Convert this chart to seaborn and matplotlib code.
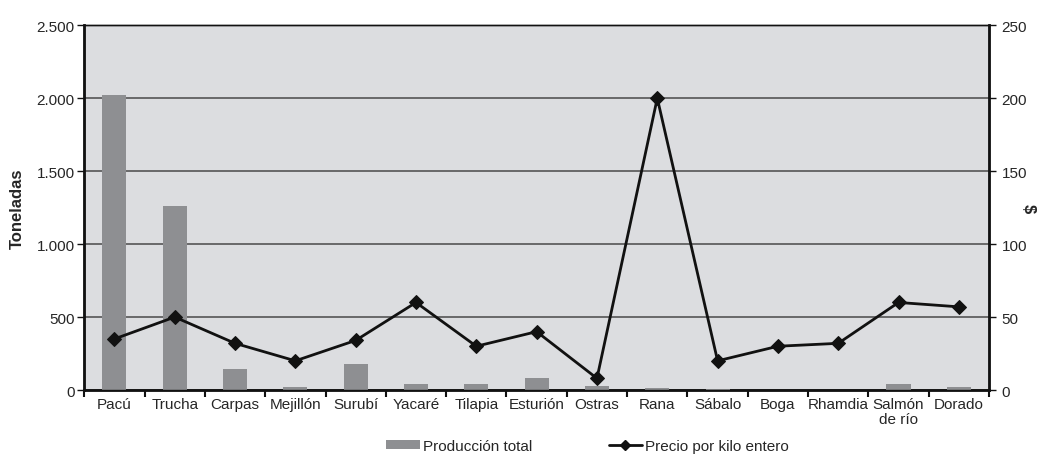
import numpy as np
import pandas as pd
import matplotlib
matplotlib.use("Agg")
import matplotlib.pyplot as plt
import seaborn as sns
from matplotlib.patches import Patch
from matplotlib.lines import Line2D

especies = ["Pacú", "Trucha", "Carpas", "Mejillón", "Surubí", "Yacaré", "Tilapia",
            "Esturión", "Ostras", "Rana", "Sábalo", "Boga", "Rhamdia", "Salmón\nde río", "Dorado"]
produccion = [2020, 1260, 145, 20, 175, 40, 38, 82, 28, 12, 6, 3, 2, 42, 20]
precio = [35, 50, 32, 20, 34, 60, 30, 40, 8, 200, 20, 30, 32, 60, 57]
left_ticks = [0, 500, 1000, 1500, 2000, 2500]
left_labels = ["0", "500", "1.000", "1.500", "2.000", "2.500"]
right_ticks = [0, 50, 100, 150, 200, 250]

sns.set_theme(style="white")
plt.rcParams['font.family'] = ['Liberation Sans Narrow', 'Liberation Sans', 'DejaVu Sans']

df = pd.DataFrame({"especie": especies, "produccion": produccion, "precio": precio,
                   "pos": np.arange(len(especies))})

fig = plt.figure(figsize=(10.4, 4.56), dpi=100)
ax = fig.add_axes([0.081, 0.1425, 0.870, 0.800])
ax.set_facecolor("#dcdde0")

sns.barplot(data=df, x="especie", y="produccion", color="#8e8f92", saturation=1,
            width=0.4, ax=ax, zorder=3, edgecolor="none", linewidth=0)
ax.set_ylim(0, 2500)
ax.set_xlim(-0.5, len(especies) - 0.5)
ax.set_yticks(left_ticks)
ax.set_yticklabels(left_labels)
ax.yaxis.grid(True, color="#555555", linewidth=1.2, zorder=0)
ax.set_axisbelow(True)
ax.set_xlabel("")
ax.set_ylabel("Toneladas", fontsize=12, fontweight="bold", labelpad=8)

ax2 = ax.twinx()
sns.lineplot(data=df, x="pos", y="precio", color="#111111", linewidth=2,
             marker="D", markersize=7, markeredgecolor="#111111", ax=ax2, zorder=5)
ax2.set_ylim(0, 250)
ax2.set_yticks(right_ticks)
ax2.set_xlim(-0.5, len(especies) - 0.5)
ax2.set_xlabel("")
ax2.set_ylabel("$", fontsize=12, fontweight="bold", rotation=270, labelpad=6)

for a in (ax, ax2):
    for s in a.spines.values():
        s.set_color("#111111")
        s.set_linewidth(1.0)
ax.spines["left"].set_linewidth(2)
ax.spines["bottom"].set_linewidth(2)
ax2.spines["right"].set_linewidth(2)

ax.tick_params(axis="y", which="major", length=5, width=1, color="#111111",
               labelsize=11, left=True, pad=2)
ax2.tick_params(axis="y", which="major", length=5, width=1, color="#111111",
                labelsize=11, right=True, pad=4)
ax.set_xticks(np.arange(len(especies)))
ax.set_xticklabels(especies, fontsize=11, linespacing=1.1, va="top")
ax.set_xticks(np.arange(-0.5, len(especies), 1.0), minor=True)
ax.tick_params(axis="x", which="major", length=0, pad=5)
ax.tick_params(axis="x", which="minor", length=5, width=1.5, color="#111111", bottom=True)

handles = [Patch(facecolor="#8e8f92", edgecolor="none"),
           Line2D([0], [0], color="#111111", linewidth=2, marker="D", markersize=5)]
fig.legend(handles, ["Producción total", "Precio por kilo entero"], loc="lower center",
           bbox_to_anchor=(0.565, -0.025), ncol=2, frameon=False, fontsize=11,
           handlelength=2.2, handleheight=0.5, handletextpad=0.2, columnspacing=5)

fig.savefig("out.png", dpi=100)
